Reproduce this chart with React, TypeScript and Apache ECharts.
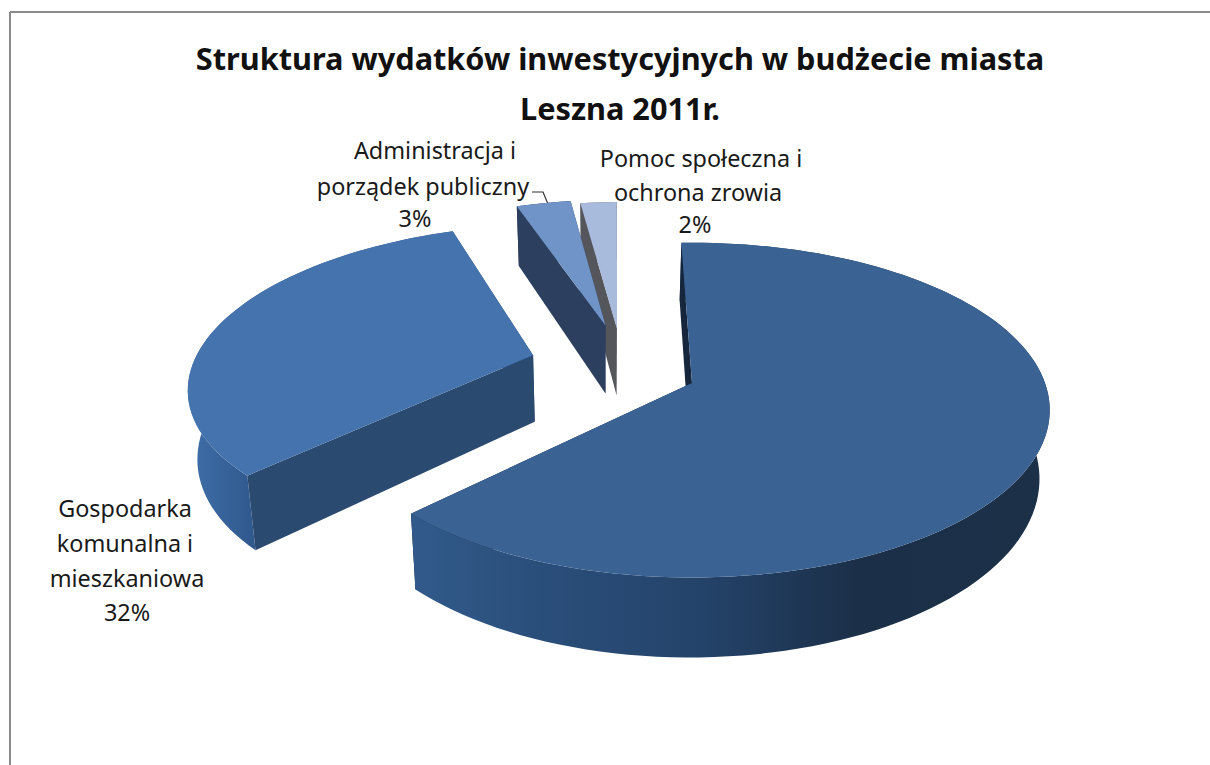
import React, { useEffect, useRef } from "react";
import * as echarts from "echarts";

const categories = ["Drogi i ulice", "Gospodarka komunalna i mieszkaniowa", "Administracja i porządek publiczny", "Pomoc społeczna i ochrona zrowia"];
const values = [63, 32, 3, 2];
const titleLines = ["Struktura wydatków inwestycyjnych w budżecie miasta", "Leszna 2011r."];
const topColors = ["#3a6394", "#4573ad", "#7094c8", "#a9bbdc"];
const faceColors = ["#16263d", "#2b4a70", "#2d3f5e", "#55565c"];
const explode = [[0, 0], [-0.463, -0.175], [-0.26, -0.375], [-0.225, -0.355]];
const radiusScale = [1, 0.98, 1, 1];
const depthScale = [1, 1.02, 1.08, 1.06];
const drawOrder = [3, 2, 1, 0];

const CX = 692, CY = 383, R = 353, K = 163, P = 0.162, D = 67, XV = 605, LOWER = 0.977;
const START = -2;
const total = values.reduce((a, b) => a + b, 0);

function project(u: number, v: number, lower: number): number[] {
  const s = 1 / (1 - P * v);
  let x = CX + u * R * s;
  const y = CY + v * K * s + lower * D * s;
  if (lower) x = XV + (x - XV) * LOWER;
  return [x, y];
}

function wallFill(i: number) {
  if (i === 0) {
    return new echarts.graphic.LinearGradient(415, 0, 1050, 0, [
      { offset: 0, color: "#315a8a" },
      { offset: 0.2, color: "#2a4e7a" },
      { offset: 0.45, color: "#24436a" },
      { offset: 0.7, color: "#1b2f48" },
      { offset: 1, color: "#1c3048" },
    ], true);
  }
  if (i === 1) {
    return new echarts.graphic.LinearGradient(190, 0, 252, 0, [
      { offset: 0, color: "#3f6ea8" },
      { offset: 1, color: "#30598e" },
    ], true);
  }
  return faceColors[i];
}

function renderItem(params: any, api: any) {
  const i = drawOrder[params.dataIndex];
  const value = api.value(0);
  const before = values.slice(0, i).reduce((a, b) => a + b, 0);
  const a0 = START + (before / total) * 360;
  const a1 = a0 + (value / total) * 360;
  const [ex, ev] = explode[i];
  const rs = radiusScale[i];
  const ds = depthScale[i];
  const steps = Math.max(4, Math.round((a1 - a0) / 2));
  const rim: number[][] = [];
  for (let k = 0; k <= steps; k++) {
    const t = ((a0 + ((a1 - a0) * k) / steps) * Math.PI) / 180;
    rim.push([ex + rs * Math.sin(t), ev - rs * Math.cos(t)]);
  }
  const up = rim.map((p) => project(p[0], p[1], 0));
  const low = rim.map((p) => project(p[0], p[1], ds));
  const apexUp = project(ex, ev, 0);
  const apexLow = project(ex, ev, ds);
  const poly = (points: number[][], fill: any) => ({
    type: "polygon",
    shape: { points },
    style: { fill, stroke: "none", lineWidth: 0 },
    silent: true,
  });
  return {
    type: "group",
    children: [
      poly([apexUp, up[up.length - 1], low[low.length - 1], apexLow], faceColors[i]),
      poly([...up, ...low.slice().reverse()], wallFill(i)),
      poly([apexUp, up[0], low[0], apexLow], faceColors[i]),
      poly([apexUp, ...up], topColors[i]),
    ],
  };
}

const FONT = "Noto Sans";
function label(text: string, x: number, y: number) {
  return {
    type: "text",
    x,
    y,
    silent: true,
    style: { text, fill: "#1a1a1a", font: `23.4px "${FONT}"`, textAlign: "center", textVerticalAlign: "middle" },
  };
}

export default function App() {
  const ref = useRef<HTMLDivElement>(null);
  useEffect(() => {
    document.body.style.margin = "0";
    const chart = echarts.init(ref.current!, undefined, { renderer: "svg" });
    chart.setOption({
      animation: false,
      backgroundColor: "#ffffff",
      title: titleLines.map((text, n) => ({
        text,
        left: 615,
        textAlign: "center",
        top: 37 + n * 50,
        textStyle: { fontFamily: FONT, fontWeight: "bold", fontSize: 30.7, color: "#111111" },
      })),
      series: [
        {
          type: "custom",
          coordinateSystem: "none",
          clip: false,
          silent: true,
          data: drawOrder.map((i) => ({ value: values[i], name: categories[i] })),
          renderItem,
        },
      ],
      graphic: [
        { type: "line", shape: { x1: 10, y1: 12, x2: 1210, y2: 12 }, style: { stroke: "#8a8a8a", lineWidth: 2 }, silent: true },
        { type: "line", shape: { x1: 10, y1: 12, x2: 10, y2: 765 }, style: { stroke: "#8a8a8a", lineWidth: 2 }, silent: true },
        { type: "polyline", shape: { points: [[532, 192], [543, 192], [548, 204]] }, style: { stroke: "#333333", lineWidth: 1.2, fill: "none" }, silent: true },
        label("Administracja i", 435, 150),
        label("porządek publiczny", 423, 186),
        label("3%", 415, 218),
        label("Pomoc społeczna i", 701, 158),
        label("ochrona zrowia", 698, 192),
        label("2%", 695, 224),
        label("Gospodarka", 125, 508),
        label("komunalna i", 125, 543),
        label("mieszkaniowa", 127, 578),
        label("32%", 127, 612),
        label("Drogi i ulice", 825, 410),
        label("63%", 825, 443),
      ],
    });
    return () => chart.dispose();
  }, []);
  return <div ref={ref} style={{ position: "fixed", left: 0, top: 0, width: 1210, height: 765 }} />;
}
